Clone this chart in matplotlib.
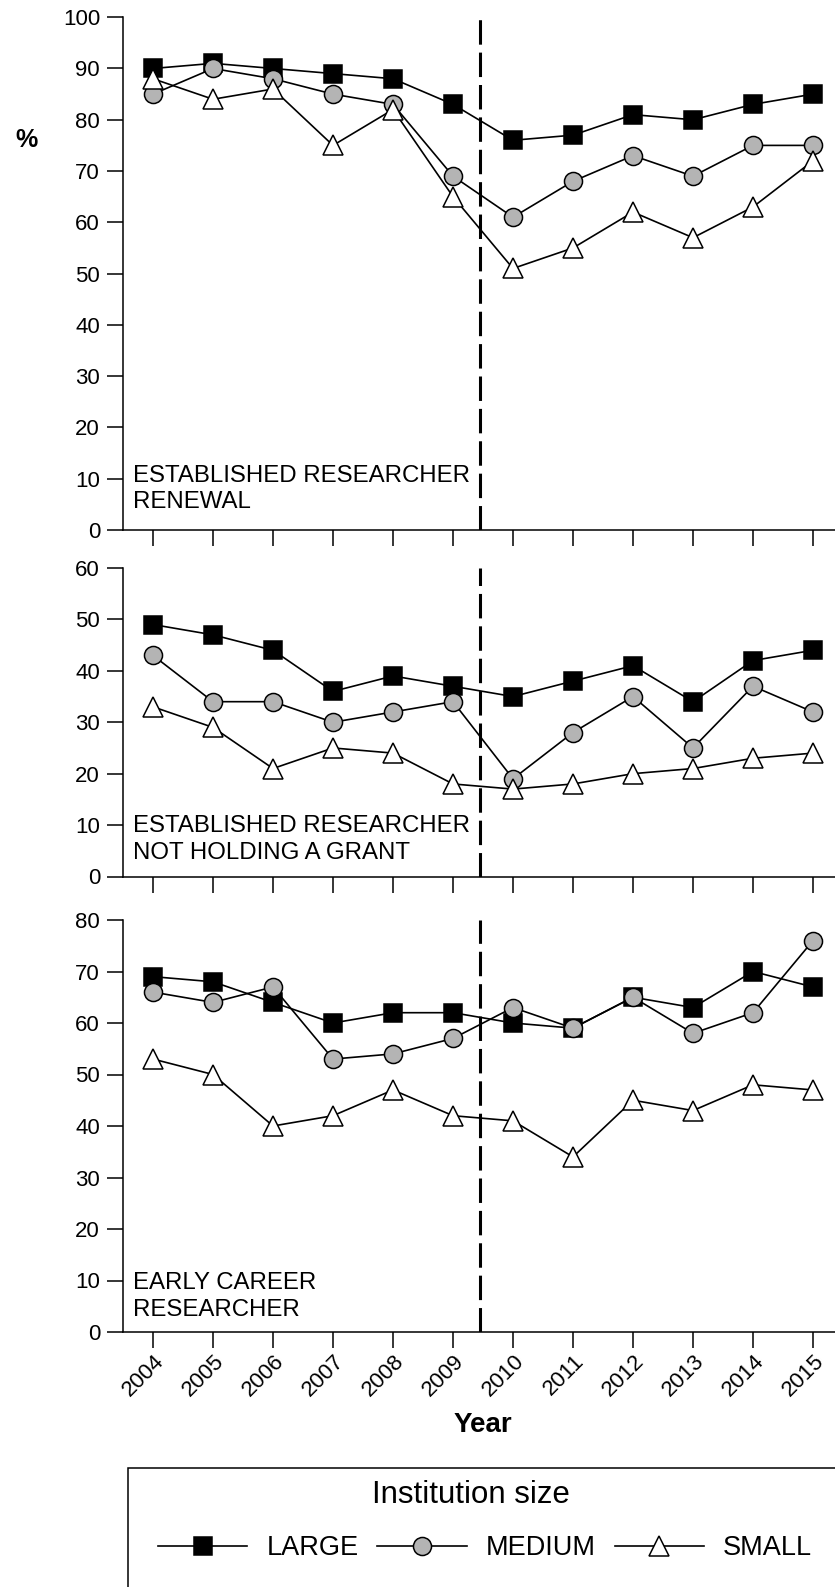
import matplotlib
matplotlib.use("Agg")
import matplotlib.pyplot as plt
import matplotlib.transforms as mtransforms
from matplotlib.patches import Rectangle
from matplotlib.lines import Line2D
import numpy as np

plt.rcParams['font.family'] = ['Liberation Sans', 'DejaVu Sans']

# -- datos --
years = [2004, 2005, 2006, 2007, 2008, 2009, 2010, 2011, 2012, 2013, 2014, 2015]

renewal_large  = [90, 91, 90, 89, 88, 83, 76, 77, 81, 80, 83, 85]
renewal_medium = [85, 90, 88, 85, 83, 69, 61, 68, 73, 69, 75, 75]
renewal_small  = [88, 84, 86, 75, 82, 65, 51, 55, 62, 57, 63, 72]

nogrant_large  = [49, 47, 44, 36, 39, 37, 35, 38, 41, 34, 42, 44]
nogrant_medium = [43, 34, 34, 30, 32, 34, 19, 28, 35, 25, 37, 32]
nogrant_small  = [33, 29, 21, 25, 24, 18, 17, 18, 20, 21, 23, 24]

early_large  = [69, 68, 64, 60, 62, 62, 60, 59, 65, 63, 70, 67]
early_medium = [66, 64, 67, 53, 54, 57, 63, 59, 65, 58, 62, 76]
early_small  = [53, 50, 40, 42, 47, 42, 41, 34, 45, 43, 48, 47]

panel_labels = ['ESTABLISHED RESEARCHER\nRENEWAL',
                'ESTABLISHED RESEARCHER\nNOT HOLDING A GRANT',
                'EARLY CAREER\nRESEARCHER']
panel_ymax = [100, 60, 80]
series_names = ['LARGE', 'MEDIUM', 'SMALL']
policy_change = 2009.45

# -- estilos --
c_gray = '#b4b4b4'
styles = [
    dict(marker='s', markerfacecolor='black', markeredgecolor='black', markersize=13),
    dict(marker='o', markerfacecolor=c_gray, markeredgecolor='black', markersize=13),
    dict(marker='^', markerfacecolor='white', markeredgecolor='black', markersize=14),
]

W, H = 835, 1587
fig = plt.figure(figsize=(W / 100, H / 100), dpi=100, facecolor='white')

# posiciones en pixeles: (top, bottom)
px_left, px_right = 123, 843
panel_px = [(17.2, 530), (568, 876.5), (920, 1332)]
label_offsets = [(7, 12), (7, 9), (7, 8)]

data = [
    (renewal_large, renewal_medium, renewal_small),
    (nogrant_large, nogrant_medium, nogrant_small),
    (early_large, early_medium, early_small),
]

axes = []
for k, (top, bot) in enumerate(panel_px):
    ax = fig.add_axes([px_left / W, 1 - bot / H, (px_right - px_left) / W, (bot - top) / H])
    axes.append(ax)

    for vals, st in zip(data[k], styles):
        ax.plot(years, vals, color='black', lw=1.2, markeredgewidth=1.1,
                clip_on=False, **st)

    ax.axvline(policy_change, color='black', lw=2.2, ls=(0, (8, 2.6)), zorder=1)

    ax.set_xlim(2003.5, 2015.5)
    ax.set_ylim(0, panel_ymax[k])
    ax.set_yticks(np.arange(0, panel_ymax[k] + 1, 10))
    ax.set_xticks(years)
    ax.tick_params(axis='both', length=11.5, width=1.1, labelsize=16, direction='out', pad=5)
    for s in ['top', 'right']:
        ax.spines[s].set_visible(False)
    for s in ['left', 'bottom']:
        ax.spines[s].set_linewidth(1.1)

    ax.annotate(panel_labels[k], xy=(0, 0), xycoords='axes fraction',
                xytext=label_offsets[k], textcoords='offset points',
                ha='left', va='bottom', fontsize=17.3, linespacing=1.28)

    if k < 2:
        ax.set_xticklabels([])

# etiquetas del eje x (rotadas)
ax = axes[-1]
ax.set_xticklabels([str(y) for y in years], rotation=45, ha='right', va='center',
                   rotation_mode='anchor', fontsize=16)
offset = mtransforms.ScaledTranslation(8 / 100, -3 / 100, fig.dpi_scale_trans)
for lbl in ax.get_xticklabels():
    lbl.set_transform(lbl.get_transform() + offset)
ax.set_xlabel('Year', fontsize=20, fontweight='bold', labelpad=8)

fig.text(27 / W, 1 - 140 / H, '%', fontsize=18, fontweight='bold', ha='center', va='center')

# -- leyenda --
fig.patches.append(Rectangle((128 / W, -0.05), 1.0, 0.05 + 1 - 1468 / H,
                             transform=fig.transFigure, fill=False,
                             edgecolor='black', lw=1.1))
fig.text(471 / W, 1 - 1495 / H, 'Institution size', fontsize=22.5, ha='center', va='center')
handles = [Line2D([], [], color='black', lw=1.2, markeredgewidth=1.1, **st) for st in styles]
fig.legend(handles, series_names, loc='center', bbox_to_anchor=(485 / W, 1 - 1548 / H),
           ncol=3, frameon=False, fontsize=19.5, handlelength=3.3,
           handletextpad=0.7, columnspacing=0.7, borderpad=0)

fig.savefig('out.png', dpi=100, facecolor='white')
